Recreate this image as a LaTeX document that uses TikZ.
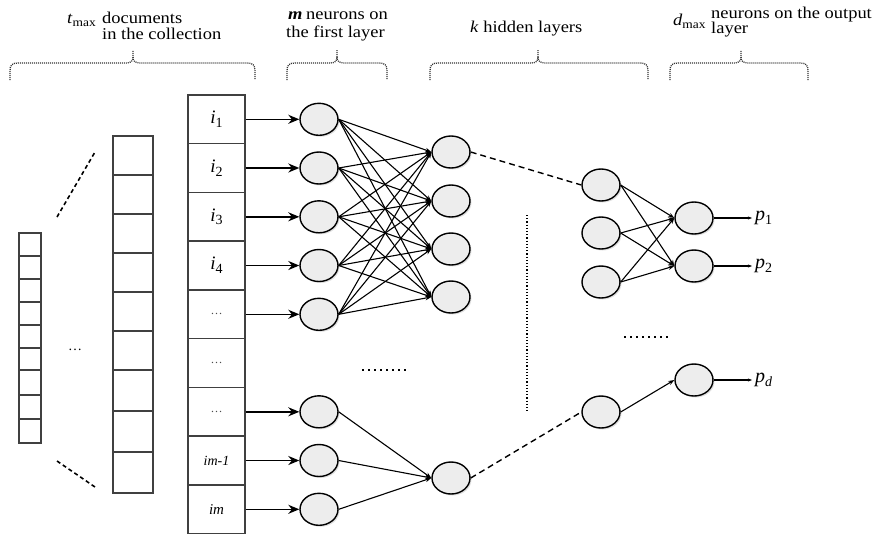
\documentclass[tikz,border=0pt]{standalone}
\usepackage{fontspec}
\setmainfont{Liberation Serif}
\usetikzlibrary{arrows.meta,shadows,shapes.geometric}
\newcommand\hs[1]{\scalebox{1.12}[1]{#1}}
\newcommand\mysub[1]{\raisebox{-0.45ex}{\fontsize{12}{12}\selectfont #1}}
\newcommand\bigsub[1]{\raisebox{-0.45ex}{\fontsize{14}{14}\selectfont #1}}
\tikzset{
  bracestyle/.style={line width=1.3pt, draw=black!80, dash pattern=on 1pt off 1pt},
  cell/.style={draw=black!75, line width=1.4pt, minimum width=57pt, minimum height=48.75pt, inner sep=0pt},
  neuron/.style={ellipse, draw=black, line width=1.4pt, fill=black!7, minimum width=38pt, minimum height=32pt, inner sep=0pt,
    drop shadow={opacity=0.25, shadow xshift=1.5pt, shadow yshift=-1.5pt}},
  inarrow/.style={line width=1.5pt, -{Stealth[length=11pt,width=9pt]}},
  conn/.style={line width=1.1pt, -{Stealth[length=6pt,width=4.5pt]}},
  outarrow/.style={line width=1.1pt, -{Stealth[length=4pt,width=3pt]}},
  dashconn/.style={line width=1.4pt, dash pattern=on 6pt off 4pt},
  lab/.style={anchor=base west, inner sep=0pt, font=\fontsize{16.5}{18}\selectfont},
  plab/.style={anchor=west, inner sep=3pt, font=\fontsize{20}{20}\selectfont},
}
\newcommand\mybrace[3]{%
  \draw[bracestyle] (#1,80) -- (#1,71) .. controls (#1,65) and (#1+2,63) .. (#1+8,63) -- (#2-7,63) .. controls (#2-2,63) and (#2,61) .. (#2,57) -- (#2,50);
  \draw[bracestyle] (#2,57) .. controls (#2,61) and (#2+2,63) .. (#2+7,63) -- (#3-8,63) .. controls (#3-2,63) and (#3,65) .. (#3,71) -- (#3,80);}
\begin{document}
\begin{tikzpicture}[x=1pt,y=-1pt]
\useasboundingbox (0,0) rectangle (877,536);

% header labels
\node[lab] (tmax) at (67,23) {\hs{\textit{t}\mysub{max}}};
\node[lab] (doc1) at (102,23) {\hs{documents}};
\node[lab] (doc2) at (102,39) {\hs{in the collection}};
\node[lab] (mlab) at (288,19) {\hs{\textbf{\textit{m}}}};
\node[lab] (fl1) at (306,19) {\hs{neurons on}};
\node[lab] (fl2) at (286,37) {\hs{the first layer}};
\node[lab] (klab) at (470,32) {\hs{\textit{k} hidden layers}};
\node[lab] (dmax) at (673,25) {\hs{\textit{d}\mysub{max}}};
\node[lab] (ol1) at (711,18) {\hs{neurons on the output}};
\node[lab] (ol2) at (711,33) {\hs{layer}};

% braces
\mybrace{10}{133}{255}
\mybrace{287}{337}{387}
\mybrace{430}{538}{648}
\mybrace{670}{741}{808}

% small left column
\draw[black!75, line width=1.4pt] (19,233) rectangle (41,443);
\foreach \yy in {256,279,302,325,348,370,395,419} \draw[black!75, line width=1.1pt] (19,\yy) -- (41,\yy);
% middle column
\draw[black!75, line width=1.4pt] (113,136) rectangle (153,493);
\foreach \yy in {175,214,253,292,331,370,411,452} \draw[black!75, line width=1.1pt] (113,\yy) -- (153,\yy);
\node[font=\fontsize{14}{14}\selectfont] (ldots) at (75,350) {…};
\draw[line width=1.6pt, dash pattern=on 4pt off 3pt] (57,217) -- (95,152);
\draw[line width=1.6pt, dash pattern=on 4pt off 3pt] (57,461) -- (95,487);

% input column
\node[cell] (c1) at (216.5,119.3) {\fontsize{19}{19}\selectfont\textit{i}\bigsub{1}};
\node[cell] (c2) at (216.5,168) {\fontsize{19}{19}\selectfont\textit{i}\bigsub{2}};
\node[cell] (c3) at (216.5,216.8) {\fontsize{19}{19}\selectfont\textit{i}\bigsub{3}};
\node[cell] (c4) at (216.5,265.5) {\fontsize{19}{19}\selectfont\textit{i}\bigsub{4}};
\node[cell] (c5) at (216.5,314.3) {\color{black!70}\fontsize{12}{12}\selectfont …};
\node[cell] (c6) at (216.5,363) {\color{black!70}\fontsize{12}{12}\selectfont …};
\node[cell] (c7) at (216.5,411.8) {\color{black!70}\fontsize{12}{12}\selectfont …};
\node[cell] (c8) at (216.5,460.5) {\fontsize{14}{14}\selectfont\textit{im-1}};
\node[cell] (c9) at (216.5,509.3) {\fontsize{15}{15}\selectfont\textit{im}};

% first layer
\node[neuron] (a1) at (319,119.3) {};
\node[neuron] (a2) at (319,168) {};
\node[neuron] (a3) at (319,216.8) {};
\node[neuron] (a4) at (319,265.5) {};
\node[neuron] (a5) at (319,314.3) {};
\node[neuron] (a6) at (319,411.8) {};
\node[neuron] (a7) at (319,460.5) {};
\node[neuron] (a8) at (319,509.3) {};
\foreach \i/\j in {c1/a1,c2/a2,c3/a3,c4/a4,c5/a5,c7/a6,c8/a7,c9/a8}
  \draw[inarrow] (\i.east) -- (\j.west);

% second layer
\node[neuron] (b1) at (451,152) {};
\node[neuron] (b2) at (451,201) {};
\node[neuron] (b3) at (451,249) {};
\node[neuron] (b4) at (451,297) {};
\node[neuron] (b5) at (451,478) {};
\foreach \i in {a1,a2,a3,a4,a5}
  \foreach \j in {b1,b2,b3,b4}
    \draw[conn] (\i.east) -- (\j.west);
\foreach \i in {a6,a7,a8}
  \draw[conn] (\i.east) -- (b5.west);
\draw[line width=1.6pt, dash pattern=on 1.5pt off 4.5pt] (362,370) -- (410,370);

% third layer
\node[neuron] (h1) at (601,185) {};
\node[neuron] (h2) at (601,233) {};
\node[neuron] (h3) at (601,282) {};
\node[neuron] (h4) at (601,412) {};
\draw[dashconn] (b1.east) -- (h1.west);
\draw[dashconn] (b5.east) -- (h4.west);
\draw[line width=1.4pt, dash pattern=on 1.2pt off 2pt] (527,215) -- (527,413);

% output layer
\node[neuron] (o1) at (694,218) {};
\node[neuron] (o2) at (694,266) {};
\node[neuron] (o3) at (694,380) {};
\foreach \i in {h1,h2,h3}
  \foreach \j in {o1,o2}
    \draw[conn] (\i.east) -- (\j.west);
\draw[conn] (h4.east) -- (o3.west);
\draw[line width=1.6pt, dash pattern=on 1.5pt off 4.5pt] (624,337) -- (670,337);

\coordinate (q1) at (752,218);
\coordinate (q2) at (752,266);
\coordinate (q3) at (752,380);
\draw[outarrow] (o1.east) -- (q1);
\draw[outarrow] (o2.east) -- (q2);
\draw[outarrow] (o3.east) -- (q3);
\node[plab] (p1) at (q1) {\textit{p}\bigsub{1}};
\node[plab] (p2) at (q2) {\textit{p}\bigsub{2}};
\node[plab] (p3) at (q3) {\textit{p}\bigsub{\textit{d}}};
\end{tikzpicture}
\end{document}
